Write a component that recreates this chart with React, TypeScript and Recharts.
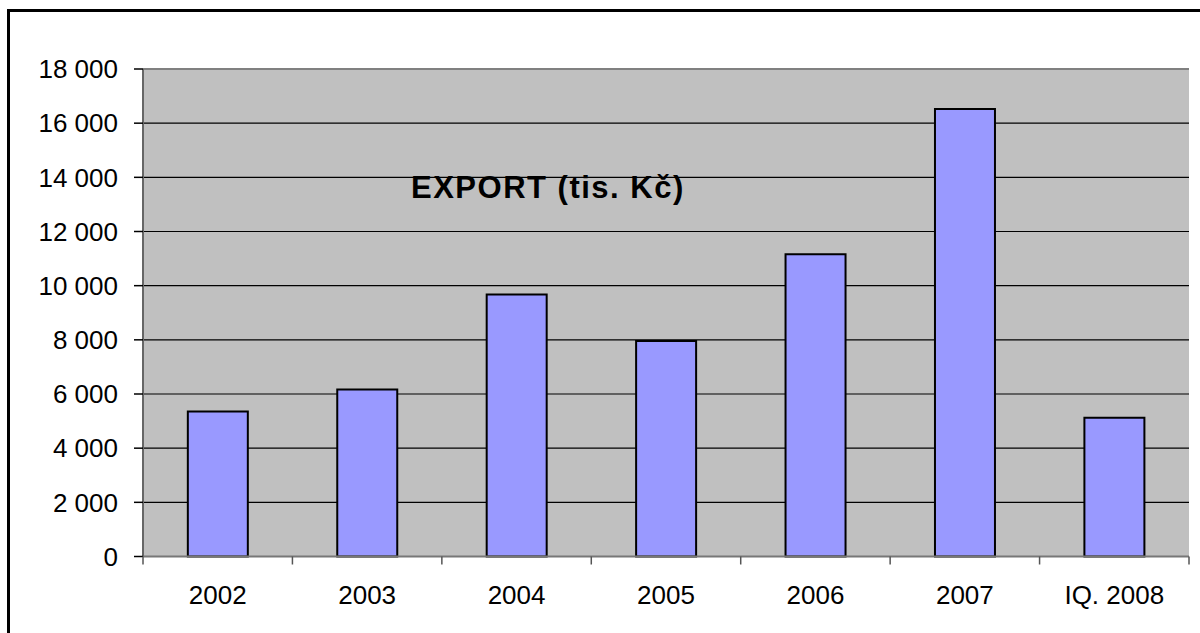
import {
  BarChart,
  Bar,
  XAxis,
  YAxis,
  CartesianGrid,
  ReferenceLine,
} from "recharts";

const categories = ["2002", "2003", "2004", "2005", "2006", "2007", "IQ. 2008"];
const exportValues = [5350, 6170, 9670, 7960, 11160, 16520, 5120];
const yTicks = [0, 2000, 4000, 6000, 8000, 10000, 12000, 14000, 16000, 18000];
const chartTitle = "EXPORT (tis. Kč)";

const data = categories.map((year, i) => ({ year, value: exportValues[i] }));

const FONT = '"Liberation Sans", Arial, sans-serif';
const W = 1200;
const H = 633;
const PLOT_LEFT = 143;
const PLOT_RIGHT = 11;

const formatThousands = (v: number) =>
  String(v).replace(/\B(?=(\d{3})+(?!\d))/g, " ");

function CategoryTick(props: any) {
  const { x, y, payload, index } = props;
  const half =
    payload && payload.offset ? payload.offset : (W - PLOT_LEFT - PLOT_RIGHT) / categories.length / 2;
  const last = index === categories.length - 1;
  return (
    <g>
      <line x1={x - half} x2={x - half} y1={y} y2={y + 8} stroke="#555" strokeWidth={1.5} />
      {last && (
        <line x1={x + half} x2={x + half} y1={y} y2={y + 8} stroke="#555" strokeWidth={1.5} />
      )}
      <text x={x} y={y + 47} textAnchor="middle" fontSize={26} fontFamily={FONT} fill="#000">
        {payload.value}
      </text>
    </g>
  );
}

export default function App() {
  return (
    <div
      style={{
        position: "fixed",
        left: 0,
        top: 0,
        width: W,
        height: H,
        overflow: "hidden",
        background: "#fff",
      }}
    >
      <div
        style={{
          position: "absolute",
          left: 7,
          top: 9,
          width: 1300,
          height: 800,
          border: "3px solid #000",
        }}
      />
      <div style={{ position: "absolute", left: 0, top: 0 }}>
        <BarChart
          width={W}
          height={H}
          data={data}
          margin={{ top: 69, right: PLOT_RIGHT, bottom: 16.5, left: 0 }}
          barCategoryGap="30%"
        >
          <CartesianGrid
            vertical={false}
            stroke="#000"
            strokeWidth={1.2}
            fill="#C0C0C0"
            fillOpacity={1}
            yAxisId="left"
          />
          <XAxis
            dataKey="year"
            height={60}
            tickSize={0}
            tickMargin={0}
            tickLine={false}
            interval={0}
            axisLine={{ stroke: "#777", strokeWidth: 2 }}
            tick={<CategoryTick />}
          />
          <YAxis
            yAxisId="left"
            width={PLOT_LEFT}
            domain={[0, 18000]}
            ticks={yTicks}
            interval={0}
            tickSize={9}
            tickMargin={16}
            tickFormatter={formatThousands}
            tickLine={{ stroke: "#000", strokeWidth: 1.5 }}
            axisLine={{ stroke: "#666", strokeWidth: 2 }}
            tick={{ fontSize: 26, fontFamily: FONT, fill: "#000" }}
          />
          <YAxis
            yAxisId="right"
            orientation="right"
            width={0}
            domain={[0, 18000]}
            tick={false}
            tickLine={false}
            axisLine={{ stroke: "#808080", strokeWidth: 2 }}
          />
          <ReferenceLine yAxisId="left" y={18000} stroke="#808080" strokeWidth={2} />
          <Bar
            yAxisId="left"
            dataKey="value"
            fill="#9999FF"
            stroke="#000"
            strokeWidth={2}
            isAnimationActive={false}
          />
        </BarChart>
      </div>
      <svg
        width={W}
        height={H}
        style={{ position: "absolute", left: 0, top: 0, pointerEvents: "none" }}
      >
        <text
          x={411}
          y={197.5}
          fontSize={31}
          fontWeight="bold"
          fontFamily={FONT}
          letterSpacing={1.5}
          fill="#000"
        >
          {chartTitle}
        </text>
      </svg>
    </div>
  );
}
